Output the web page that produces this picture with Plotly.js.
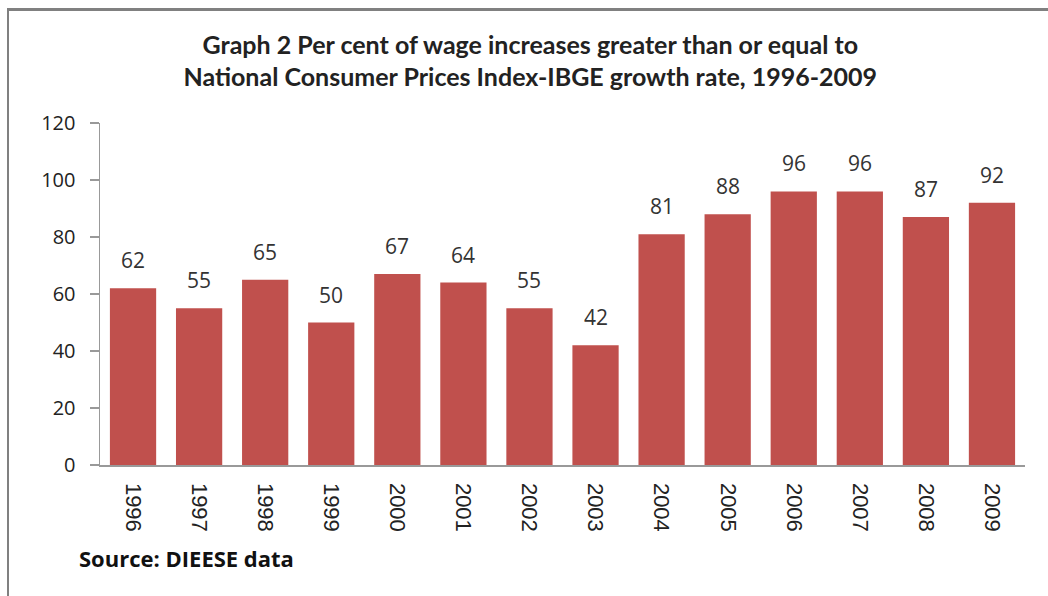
<!DOCTYPE html>
<html>
<head>
<meta charset="utf-8">
<script src="https://cdn.plot.ly/plotly-3.0.1.min.js"></script>
<style>
html,body{margin:0;padding:0;background:#fff;}
#frame{position:absolute;left:7px;top:8px;width:1041px;height:588px;border-top:3px solid #808080;border-left:2px solid #808080;box-sizing:border-box;}
#chart{position:absolute;left:0;top:0;width:1048px;height:596px;}
</style>
</head>
<body>
<div id="frame"></div>
<div id="chart"></div>
<script>
const years = ["1996","1997","1998","1999","2000","2001","2002","2003","2004","2005","2006","2007","2008","2009"];
const values = [62,55,65,50,67,64,55,42,81,88,96,96,87,92];
const yTicks = [0,20,40,60,80,100,120];

const trace = {
  type: 'bar',
  x: years,
  y: values,
  marker: {color: '#C0504D'},
  hoverinfo: 'x+y'
};

const labelAnns = years.map((yr, i) => ({
  x: i, y: values[i], xref: 'x', yref: 'y',
  text: String(values[i]), showarrow: false,
  yanchor: 'bottom', yshift: 12,
  font: {family: 'Open Sans, sans-serif', size: 21, color: '#333333'}
}));

const layout = {
  width: 1048, height: 596,
  paper_bgcolor: 'rgba(0,0,0,0)', plot_bgcolor: 'rgba(0,0,0,0)',
  margin: {l: 100, r: 23, t: 123, b: 131},
  bargap: 0.3,
  showlegend: false,
  title: {
    text: 'Graph 2 Per cent of wage increases greater than or equal to<br>National Consumer Prices Index-IBGE growth rate, 1996-2009',
    font: {family: 'Lato, sans-serif', size: 25, color: '#222222', weight: 'bold'},
    x: 0.506, xref: 'container', xanchor: 'center',
    y: 0.91, yref: 'container', yanchor: 'middle'
  },
  xaxis: {
    type: 'category',
    range: [-0.5, years.length - 0.5],
    tickangle: 90,
    ticks: '',
    showline: true, linecolor: '#999999', linewidth: 1.5,
    tickfont: {family: 'Liberation Sans, Arial, sans-serif', size: 22, color: '#222222'},
    ticklabelstandoff: 12,
    showgrid: false, zeroline: false
  },
  yaxis: {
    range: [0, 120],
    tickvals: yTicks,
    ticktext: yTicks.map(String),
    ticks: 'outside', ticklen: 9, tickcolor: '#999999', tickwidth: 1.5,
    showline: true, linecolor: '#999999', linewidth: 1.5,
    tickfont: {family: 'Open Sans, sans-serif', size: 20, color: '#222222'},
    ticklabelstandoff: 10,
    showgrid: false, zeroline: false
  },
  annotations: labelAnns.concat([{
    text: '<b>Source: DIEESE data</b>',
    xref: 'paper', yref: 'paper',
    x: -0.025, y: -0.272, xanchor: 'left', yanchor: 'middle',
    showarrow: false,
    font: {family: 'Open Sans, sans-serif', size: 22, color: '#111111'}
  }])
};

Plotly.newPlot('chart', [trace], layout, {displayModeBar: false, staticPlot: true});
</script>
</body>
</html>
